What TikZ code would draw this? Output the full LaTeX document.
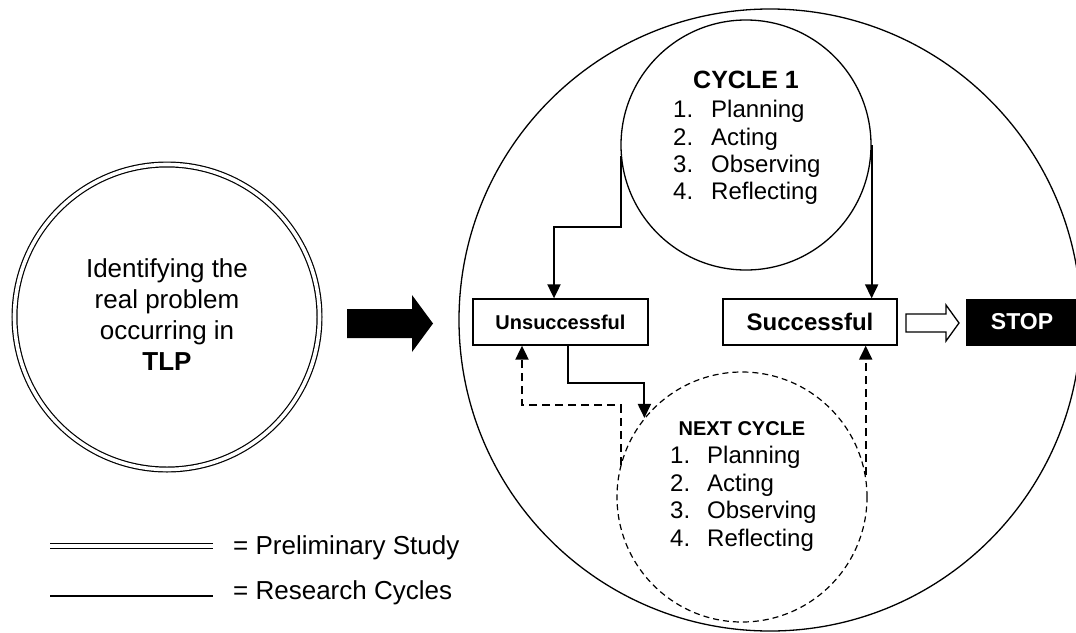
\documentclass[tikz,border=0pt]{standalone}
\usepackage{fontspec}
\setmainfont{Liberation Sans}
\usetikzlibrary{arrows.meta,calc}
\begin{document}
\begin{tikzpicture}[x=1pt,y=-1pt,
  ring/.style={draw,circle,inner sep=0pt,line width=1.3pt},
  dring/.style={draw,circle,inner sep=0pt,line width=1.2pt,dash pattern=on 6pt off 4pt},
  prelim/.style={draw,circle,inner sep=0pt,line width=1.2pt,double,double distance=3.6pt},
  box/.style={draw,line width=1.3pt,minimum height=46pt,inner sep=0pt},
  conn/.style={line width=1.9pt,-{Triangle[width=13pt,length=14pt]}},
  dconn/.style={line width=1.9pt,dash pattern=on 8pt off 5pt,-{Triangle[width=13pt,length=14pt]}},
  txt/.style={font=\fontsize{24}{27.6}\selectfont,inner sep=0pt,anchor=base west},
  big/.style={font=\fontsize{26}{30}\selectfont,inner sep=0pt,anchor=base}
]
\useasboundingbox (0,0) rectangle (1076,632);
\clip (0,0) rectangle (1076,632);
\fill[white] (0,0) rectangle (1076,632);

% preliminary study circle
\node[prelim,minimum size=305pt] (prob) at (167,317) {};
\node[big] (p1) at (167,277) {Identifying the};
\node[big] (p2) at (167,308) {real problem};
\node[big] (p3) at (167,339) {occurring in};
\node[big] (p4) at (167,370) {\textbf{TLP}};

% black block arrow
\fill (347,309) -- (412,309) -- (412,295) -- (433,323.5) -- (412,352) -- (412,338) -- (347,338) -- cycle;

% big research circle
\node[ring,minimum size=622pt] (research) at (770,320) {};

% cycle 1
\node[ring,minimum size=250pt] (cyc1) at (746,145) {};
\node[font=\fontsize{25}{28}\selectfont\bfseries,inner sep=0pt,anchor=base] (c1t) at (746,88) {CYCLE 1};
\node[txt] (c1a) at (673,117) {\makebox[38pt][l]{1.}Planning};
\node[txt] (c1b) at (673,145) {\makebox[38pt][l]{2.}Acting};
\node[txt] (c1c) at (673,172) {\makebox[38pt][l]{3.}Observing};
\node[txt] (c1d) at (673,199) {\makebox[38pt][l]{4.}Reflecting};

% next cycle
\node[dring,minimum size=250pt] (next) at (742,497) {};
\node[font=\fontsize{20}{24}\selectfont\bfseries,inner sep=0pt,anchor=base] (nt) at (742,435) {NEXT CYCLE};
\node[txt] (na) at (670,463) {\makebox[37pt][l]{1.}Planning};
\node[txt] (nb) at (670,491) {\makebox[37pt][l]{2.}Acting};
\node[txt] (nc) at (670,518) {\makebox[37pt][l]{3.}Observing};
\node[txt] (nd) at (670,546) {\makebox[37pt][l]{4.}Reflecting};

% boxes
\node[box,minimum width=175pt,font=\fontsize{20}{24}\selectfont\bfseries] (unsucc) at (560.5,322) {Unsuccessful};
\node[box,minimum width=174pt,font=\fontsize{24}{28}\selectfont\bfseries] (succ) at (810,322) {Successful};
\node[fill=black,text=white,minimum width=112pt,minimum height=47pt,inner sep=0pt,font=\fontsize{23}{27}\selectfont\bfseries] (stop) at (1022,322) {STOP};

% hollow arrow
\draw[line width=1.3pt,fill=white] (906,314) -- (946,314) -- (946,305) -- (959,323) -- (946,341) -- (946,332) -- (906,332) -- cycle;

% connectors
\coordinate (k1) at (554,227);
\draw[conn] (cyc1.185) |- (k1) -- (k1 |- unsucc.north);
\draw[conn] (cyc1.east) -- (cyc1.east |- succ.north);
\coordinate (k2) at (568,383);
\draw[conn] (unsucc.south -| k2) -- (k2) -| (next.141);
\coordinate (k3) at (522,405);
\draw[dconn] (next.165.5) |- (k3) -- (k3 |- unsucc.south);
\draw[dconn] (next.10) -- (next.10 |- succ.south);

% legend
\coordinate (l1) at (50,546);
\coordinate (l2) at (213,546);
\draw[line width=1.2pt,double,double distance=3.6pt] (l1) -- (l2);
\coordinate (l3) at (50,596);
\coordinate (l4) at (213,596);
\draw[line width=1.3pt] (l3) -- (l4);
\node[big,anchor=base west] (lg1) at (233,554) {= Preliminary Study};
\node[big,anchor=base west] (lg2) at (233,599) {= Research Cycles};
\end{tikzpicture}
\end{document}
